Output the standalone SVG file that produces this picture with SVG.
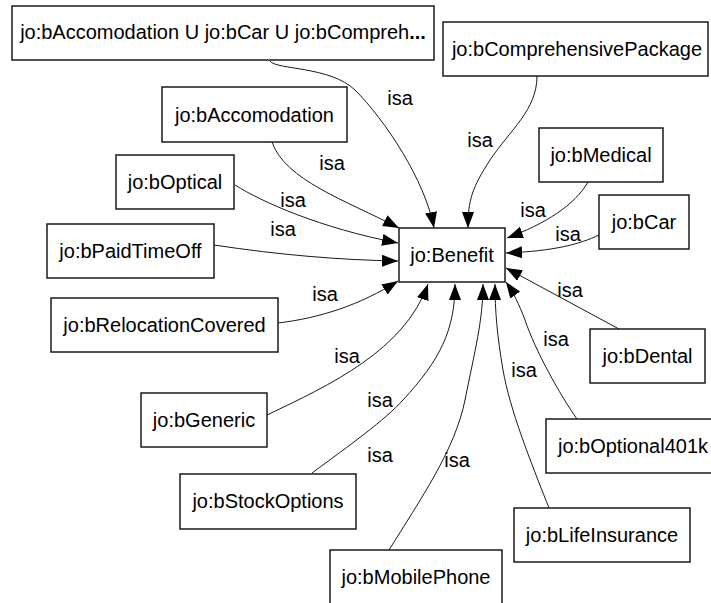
<svg xmlns="http://www.w3.org/2000/svg" width="711" height="603" viewBox="0 0 711 603">
  <style>
    .box { fill: #ffffff; stroke: #1a1a1a; stroke-width: 1.5; }
    .lbl { font-family: "Liberation Sans", Arial, sans-serif; font-size: 20px; fill: #000; text-anchor: middle; }
    .edge { fill: none; stroke: #1a1a1a; stroke-width: 1; marker-end: url(#arrow); }
    .isa { font-family: "Liberation Sans", Arial, sans-serif; font-size: 20px; fill: #000; text-anchor: middle; }
  </style>
  <defs>
    <marker id="arrow" markerUnits="userSpaceOnUse" markerWidth="17" markerHeight="13" refX="16" refY="6" orient="auto">
      <path d="M0,0 L16,6 L0,12 z" fill="#000"/>
    </marker>
  </defs>
  <rect width="711" height="603" fill="#ffffff"/>

  <!-- isa connectors, all ending at jo:Benefit -->
  <g id="edges">
    <path class="edge" d="M270,61 C276,70 330,66 355,90 C385,120 425,180 434,228"/>
    <path class="edge" d="M537,76 C537,110 510,130 490,160 C472,188 468,200 468,228"/>
    <path class="edge" d="M272,142 C285,180 345,200 399,228"/>
    <path class="edge" d="M235,185 C262,202 320,228 398,243"/>
    <path class="edge" d="M214,245 C280,255 340,260 398,261"/>
    <path class="edge" d="M278,323 C320,318 360,305 398,281"/>
    <path class="edge" d="M267,415 C330,385 405,350 428,284"/>
    <path class="edge" d="M312,473 C350,445 385,420 403,400 C440,360 455,330 455,284"/>
    <path class="edge" d="M389,550 C420,500 455,450 465,400 C475,350 483,320 483,284"/>
    <path class="edge" d="M549,508 C530,460 510,410 503,370 C497,335 495,310 495,284"/>
    <path class="edge" d="M577,419 C560,395 535,350 525,320 C519,304 513,292 506,282"/>
    <path class="edge" d="M619,329 L506,268"/>
    <path class="edge" d="M599,235 C580,244 555,251 506,253"/>
    <path class="edge" d="M588,182 C575,205 545,224 507,238"/>
  </g>

  <!-- edge labels -->
  <g id="edge-labels">
    <text class="isa" x="400" y="105">isa</text>
    <text class="isa" x="480" y="147">isa</text>
    <text class="isa" x="332" y="170">isa</text>
    <text class="isa" x="533" y="217">isa</text>
    <text class="isa" x="293" y="207">isa</text>
    <text class="isa" x="568" y="241">isa</text>
    <text class="isa" x="283" y="236">isa</text>
    <text class="isa" x="325" y="301">isa</text>
    <text class="isa" x="570" y="297">isa</text>
    <text class="isa" x="347" y="363">isa</text>
    <text class="isa" x="556" y="346">isa</text>
    <text class="isa" x="524" y="377">isa</text>
    <text class="isa" x="380" y="407">isa</text>
    <text class="isa" x="380" y="462">isa</text>
    <text class="isa" x="457" y="467">isa</text>
  </g>

  <g id="n-union">
    <rect class="box" x="12" y="6" width="422" height="54"/>
    <text class="lbl" x="223" y="39">jo:bAccomodation U jo:bCar U jo:bCompreh<tspan font-weight="bold">...</tspan></text>
  </g>
  <g id="n-comprehensive">
    <rect class="box" x="443" y="22" width="265" height="54"/>
    <text class="lbl" x="577" y="56">jo:bComprehensivePackage</text>
  </g>
  <g id="n-accomodation">
    <rect class="box" x="162" y="87" width="185" height="55"/>
    <text class="lbl" x="254.5" y="121.5">jo:bAccomodation</text>
  </g>
  <g id="n-optical">
    <rect class="box" x="116" y="155" width="118" height="54"/>
    <text class="lbl" x="175" y="189">jo:bOptical</text>
  </g>
  <g id="n-paidtimeoff">
    <rect class="box" x="47" y="224" width="167" height="54"/>
    <text class="lbl" x="130.5" y="258">jo:bPaidTimeOff</text>
  </g>
  <g id="n-relocation">
    <rect class="box" x="51" y="298" width="227" height="54"/>
    <text class="lbl" x="164.5" y="332">jo:bRelocationCovered</text>
  </g>
  <g id="n-generic">
    <rect class="box" x="141" y="393" width="126" height="54"/>
    <text class="lbl" x="204" y="427">jo:bGeneric</text>
  </g>
  <g id="n-stockoptions">
    <rect class="box" x="180" y="474" width="176" height="55"/>
    <text class="lbl" x="268" y="508">jo:bStockOptions</text>
  </g>
  <g id="n-mobilephone">
    <rect class="box" x="330" y="550" width="172" height="54"/>
    <text class="lbl" x="416" y="584">jo:bMobilePhone</text>
  </g>
  <g id="n-lifeinsurance">
    <rect class="box" x="514" y="508" width="176" height="54"/>
    <text class="lbl" x="602" y="542">jo:bLifeInsurance</text>
  </g>
  <g id="n-optional401k">
    <rect class="box" x="546" y="419" width="174" height="54"/>
    <text class="lbl" x="633" y="453">jo:bOptional401k</text>
  </g>
  <g id="n-dental">
    <rect class="box" x="590" y="329" width="115" height="54"/>
    <text class="lbl" x="647.5" y="363">jo:bDental</text>
  </g>
  <g id="n-car">
    <rect class="box" x="599" y="195" width="90" height="54"/>
    <text class="lbl" x="644" y="229">jo:bCar</text>
  </g>
  <g id="n-medical">
    <rect class="box" x="539" y="128" width="124" height="54"/>
    <text class="lbl" x="601" y="162">jo:bMedical</text>
  </g>
  <g id="n-benefit">
    <rect class="box" x="399" y="228" width="106" height="54"/>
    <text class="lbl" x="452" y="262">jo:Benefit</text>
  </g>
</svg>
